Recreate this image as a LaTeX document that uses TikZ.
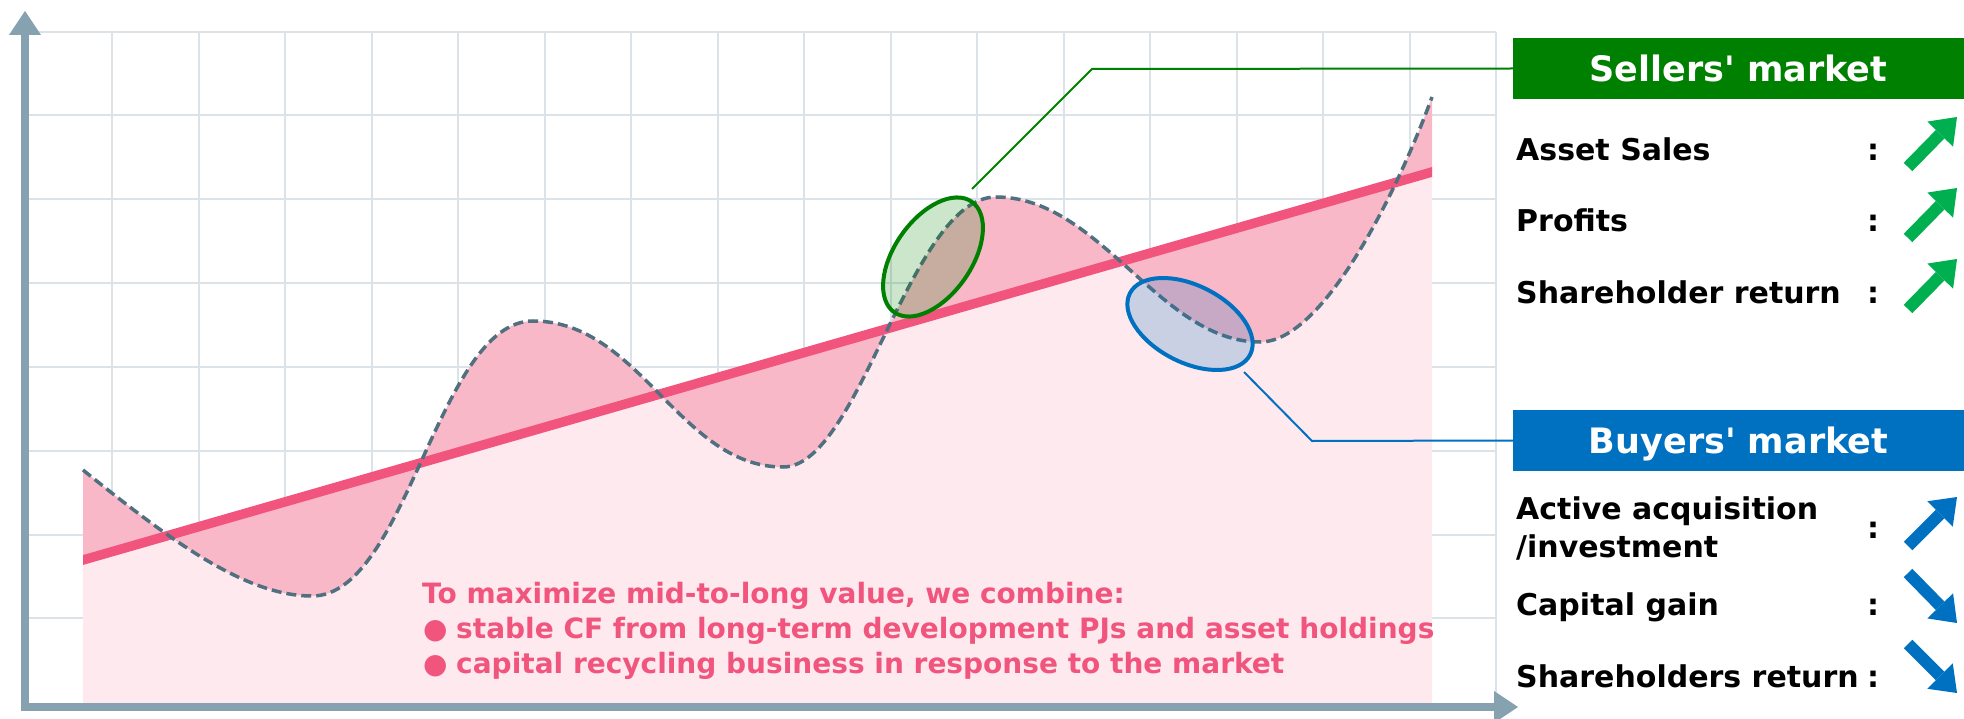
\documentclass[tikz,border=0pt]{standalone}
\usepackage{fontspec}
\setmainfont{DejaVu Sans}
\usetikzlibrary{arrows.meta,shapes.geometric}

\definecolor{gridgray}{RGB}{220,227,232}
\definecolor{axisgray}{RGB}{134,161,175}
\definecolor{softpink}{RGB}{253,233,238}
\definecolor{deeppink}{RGB}{249,184,200}
\definecolor{trendred}{RGB}{241,85,126}
\definecolor{waveslate}{RGB}{80,112,128}
\definecolor{sellgreen}{RGB}{0,128,0}
\definecolor{upgreen}{RGB}{0,176,80}
\definecolor{buyblue}{RGB}{0,112,192}

\newcommand{\wave}{(83,470) .. controls (170,540) and (245,596) .. (312,596)
  .. controls (407,596) and (438,321) .. (533,321)
  .. controls (640,321) and (680,467) .. (783,467)
  .. controls (860,467) and (910,197) .. (996,197)
  .. controls (1100,197) and (1160,342) .. (1260,342)
  .. controls (1325,342) and (1400,185) .. (1432,97)}
\newcommand{\bul}{\makebox[33pt][l]{●}}
\newcommand{\apos}{\textquotesingle}

\begin{document}
\begin{tikzpicture}[x=1pt,y=-1pt,
  gridline/.style={draw=gridgray,line width=2pt},
  axisline/.style={draw=axisgray,line width=8pt,
    {Triangle[length=24pt,width=32pt,line width=0pt]}-{Triangle[length=24pt,width=32pt,line width=0pt]}},
  trend/.style={draw=trendred,line width=9.5pt},
  waveline/.style={draw=waveslate,line width=3.5pt,dash pattern=on 10pt off 5pt},
  spot/.style={ellipse,minimum width=135pt,minimum height=77pt,inner sep=0pt,line width=4pt,fill opacity=0.2},
  leader/.style={line width=2pt},
  banner/.style={inner sep=0pt,text=white,text depth=0pt,minimum width=451pt,minimum height=61pt,
    font=\fontsize{35pt}{42pt}\selectfont\bfseries},
  item/.style={anchor=base west,inner sep=0pt,font=\fontsize{30pt}{36pt}\selectfont\bfseries},
  colon/.style={anchor=base,inner sep=0pt,font=\fontsize{30pt}{36pt}\selectfont\bfseries},
  note/.style={anchor=base west,inner sep=0pt,text=trendred,font=\fontsize{28pt}{34pt}\selectfont\bfseries},
  bigarrow/.style={line width=12pt,-{Triangle[length=24pt,width=36pt,line width=0pt]}}]
\useasboundingbox (0,0) rectangle (1964,719);

% grid
\foreach \i in {0,...,16}
  \draw[gridline] ({112+86.5*\i},31.7) -- ({112+86.5*\i},707);
\foreach \j in {0,...,7}
  \draw[gridline] (25,{31.7+83.8*\j}) -- (1496,{31.7+83.8*\j});

% value areas
\fill[softpink] (83,707) -- (83,560) -- (1432,172) -- (1432,707) -- cycle;
\fill[deeppink] \wave -- (1432,172) -- (83,560) -- cycle;
\begin{scope}
  \clip (83,0) rectangle (1432,719);
  \draw[trend] (63,565.75) -- (1452,166.25);
\end{scope}
\draw[waveline] \wave;

\draw[axisline] (25,11) -- (25,707) -- (1518,707);

% highlighted phases
\node[spot,draw=sellgreen,fill=sellgreen,rotate=55] (hi) at (933,257) {};
\node[spot,draw=buyblue,fill=buyblue,rotate=-27] (lo) at (1190,324) {};

\node[banner,fill=sellgreen] (sell) at (1738.5,68.5) {Sellers\apos\ market};
\node[banner,fill=buyblue] (buy) at (1738.5,440.5) {Buyers\apos\ market};

\coordinate (hitip) at (972,189);
\coordinate (hibend) at (1092,69);
\coordinate (lotip) at (1244,372);
\coordinate (lobend) at (1312,441);
\draw[leader,sellgreen] (hitip) -- (hibend) -- (sell.west);
\draw[leader,buyblue] (lotip) -- (lobend) -- (buy.west);

% sellers' market items
\path (1516,161) node[item] (as) {Asset Sales}
  (1516,232) node[item] (pr) {Profits}
  (1516,303) node[item] (sr) {Shareholder return}
  (1873,161) node[colon] (c1) {:}
  (1873,232) node[colon] (c2) {:}
  (1873,303) node[colon] (c3) {:};
\draw[bigarrow,upgreen] (1908,167) -- (1957,117);
\draw[bigarrow,upgreen] (1908,238) -- (1957,188);
\draw[bigarrow,upgreen] (1908,309) -- (1957,259);

% buyers' market items
\path (1516,519) node[item] (aa) {Active acquisition}
  (1516,557) node[item] (ai) {/investment}
  (1516,615) node[item] (cg) {Capital gain}
  (1516,687) node[item] (sh) {Shareholders return}
  (1873,538) node[colon] (c4) {:}
  (1873,615) node[colon] (c5) {:}
  (1873,687) node[colon] (c6) {:};
\draw[bigarrow,buyblue] (1908,546) -- (1957,497);
\draw[bigarrow,buyblue] (1908,573) -- (1957,623);
\draw[bigarrow,buyblue] (1908,644) -- (1957,693);

% message
\path (422,603) node[note] (n0) {To maximize mid-to-long value, we combine:}
  (423,638) node[note] (n1) {\bul stable CF from long-term development PJs and asset holdings}
  (423,673) node[note] (n2) {\bul capital recycling business in response to the market};

\end{tikzpicture}
\end{document}
